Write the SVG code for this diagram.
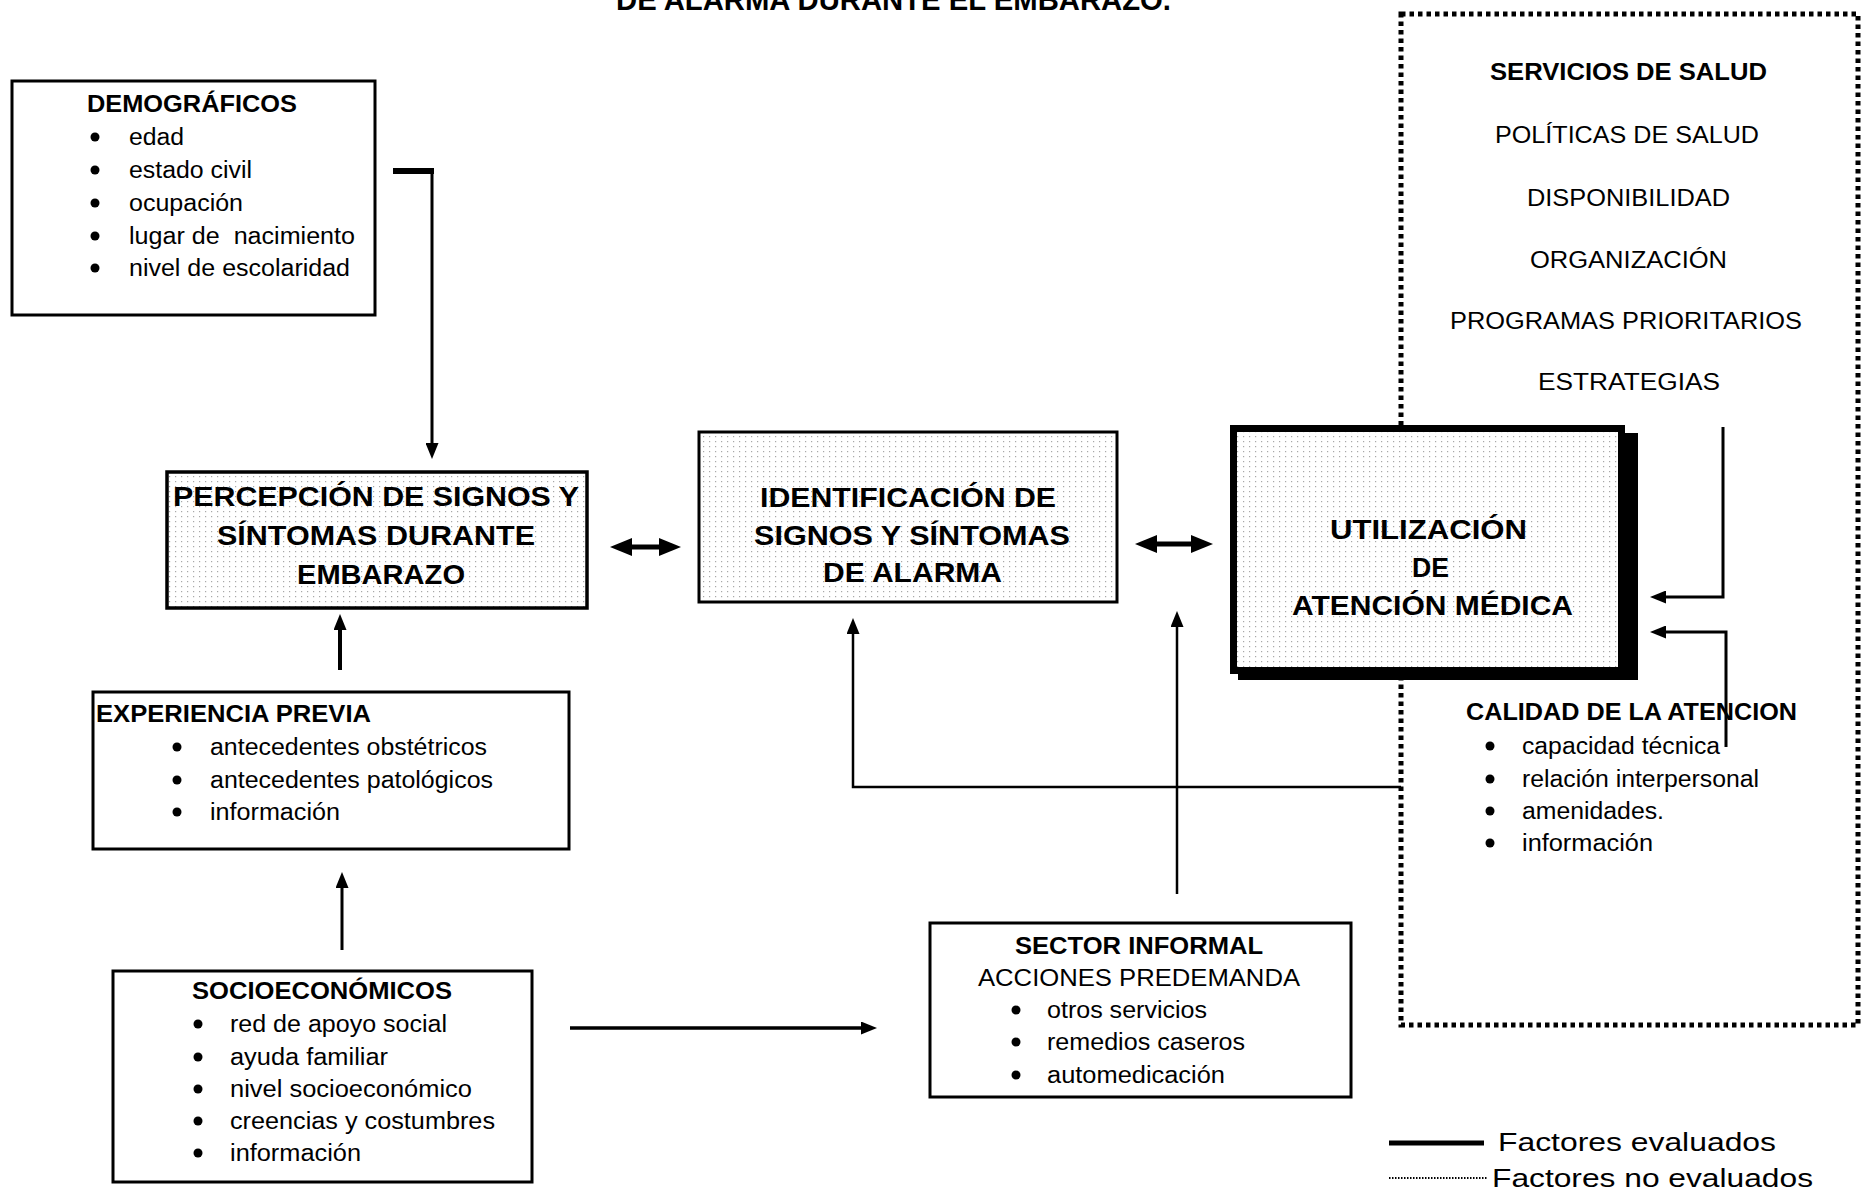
<svg xmlns="http://www.w3.org/2000/svg" width="1870" height="1192" viewBox="0 0 1870 1192">
<style>
text{font-family:"Liberation Sans",Arial,sans-serif;fill:#000}
.b{font-weight:bold}
.t{font-size:23px}
.big{font-size:28px;font-weight:bold}
.lg{font-size:25px}
.box{fill:#fff;stroke:#000;stroke-width:3}
.tex{fill:url(#dots);stroke:#000;stroke-width:3.5}
.c{fill:none;stroke:#000}
</style>
<defs>
<pattern id="dots" width="6" height="5" patternUnits="userSpaceOnUse">
<rect width="6" height="5" fill="#fff"/>
<rect x="1" y="1" width="1.2" height="1.2" fill="#a8a8a8"/>
</pattern>
<marker id="a1" viewBox="0 0 16 13" refX="3" refY="6.5" markerWidth="16" markerHeight="13" markerUnits="userSpaceOnUse" orient="auto-start-reverse">
<path d="M0,0 L16,6.5 L0,13 z" fill="#000"/>
</marker>
<marker id="a2" viewBox="0 0 22 18" refX="4" refY="9" markerWidth="22" markerHeight="18" markerUnits="userSpaceOnUse" orient="auto-start-reverse">
<path d="M0,0 L22,9 L0,18 z" fill="#000"/>
</marker>
</defs>
<rect width="1870" height="1192" fill="#fff"/>

<text id="title" class="b" x="616" y="10" font-size="29" textLength="555" lengthAdjust="spacingAndGlyphs">DE ALARMA DURANTE EL EMBARAZO.</text>

<g id="servicios">
<rect x="1401" y="14" width="457" height="1011" fill="none" stroke="#000" stroke-width="5" stroke-dasharray="4.5 4"/>
<text class="t b" x="1490" y="80" textLength="277" lengthAdjust="spacingAndGlyphs">SERVICIOS DE SALUD</text>
<text class="t" x="1495" y="143" textLength="264" lengthAdjust="spacingAndGlyphs">POLÍTICAS DE SALUD</text>
<text class="t" x="1527" y="206" textLength="203" lengthAdjust="spacingAndGlyphs">DISPONIBILIDAD</text>
<text class="t" x="1530" y="268" textLength="197" lengthAdjust="spacingAndGlyphs">ORGANIZACIÓN</text>
<text class="t" x="1450" y="329" textLength="352" lengthAdjust="spacingAndGlyphs">PROGRAMAS PRIORITARIOS</text>
<text class="t" x="1538" y="390" textLength="182" lengthAdjust="spacingAndGlyphs">ESTRATEGIAS</text>
</g>

<g id="calidad">
<text class="t b" x="1466" y="720" textLength="331" lengthAdjust="spacingAndGlyphs">CALIDAD DE LA ATENCION</text>
<circle cx="1490" cy="746" r="4.5"/>
<text class="t" x="1522" y="754" textLength="198" lengthAdjust="spacingAndGlyphs">capacidad técnica</text>
<circle cx="1490" cy="779" r="4.5"/>
<text class="t" x="1522" y="787" textLength="237" lengthAdjust="spacingAndGlyphs">relación interpersonal</text>
<circle cx="1490" cy="811" r="4.5"/>
<text class="t" x="1522" y="819" textLength="142" lengthAdjust="spacingAndGlyphs">amenidades.</text>
<circle cx="1490" cy="843" r="4.5"/>
<text class="t" x="1522" y="851" textLength="131" lengthAdjust="spacingAndGlyphs">información</text>
</g>

<g id="connectors">
<line class="c" x1="393" y1="171" x2="434" y2="171" stroke-width="6"/>
<path class="c" d="M432,171 V446" stroke-width="3" marker-end="url(#a1)"/>
<line class="c" x1="628" y1="547" x2="663" y2="547" stroke-width="5" marker-start="url(#a2)" marker-end="url(#a2)"/>
<line class="c" x1="1153" y1="544" x2="1195" y2="544" stroke-width="5" marker-start="url(#a2)" marker-end="url(#a2)"/>
<path class="c" d="M1723,427 V597 H1663" stroke-width="3" marker-end="url(#a1)"/>
<path class="c" d="M1726,747 V632 H1663" stroke-width="3" marker-end="url(#a1)"/>
<path class="c" d="M1401,787 H853 V631" stroke-width="2.5" marker-end="url(#a1)"/>
<path class="c" d="M1177,894 V624" stroke-width="2.5" marker-end="url(#a1)"/>
<path class="c" d="M340,670 V627" stroke-width="4" marker-end="url(#a1)"/>
<path class="c" d="M342,950 V885" stroke-width="3" marker-end="url(#a1)"/>
<path class="c" d="M570,1028 H864" stroke-width="3.5" marker-end="url(#a1)"/>
</g>

<g id="demograficos">
<rect class="box" x="12" y="81" width="363" height="234"/>
<text class="t b" x="87" y="112" textLength="210" lengthAdjust="spacingAndGlyphs">DEMOGRÁFICOS</text>
<circle cx="95" cy="137" r="4.5"/>
<text class="t" x="129" y="145" textLength="55" lengthAdjust="spacingAndGlyphs">edad</text>
<circle cx="95" cy="170" r="4.5"/>
<text class="t" x="129" y="178" textLength="123" lengthAdjust="spacingAndGlyphs">estado civil</text>
<circle cx="95" cy="203" r="4.5"/>
<text class="t" x="129" y="211" textLength="114" lengthAdjust="spacingAndGlyphs">ocupación</text>
<circle cx="95" cy="236" r="4.5"/>
<text class="t" x="129" y="244" textLength="226" lengthAdjust="spacingAndGlyphs" xml:space="preserve">lugar de  nacimiento</text>
<circle cx="95" cy="268" r="4.5"/>
<text class="t" x="129" y="276" textLength="221" lengthAdjust="spacingAndGlyphs">nivel de escolaridad</text>
</g>

<g id="percepcion">
<rect class="tex" x="167" y="472" width="420" height="136"/>
<text class="big" x="173" y="506" textLength="406" lengthAdjust="spacingAndGlyphs">PERCEPCIÓN DE SIGNOS Y</text>
<text class="big" x="217" y="545" textLength="318" lengthAdjust="spacingAndGlyphs">SÍNTOMAS DURANTE</text>
<text class="big" x="297" y="584" textLength="168" lengthAdjust="spacingAndGlyphs">EMBARAZO</text>
</g>

<g id="identificacion">
<rect class="tex" x="699" y="432" width="418" height="170" style="stroke-width:3"/>
<text class="big" x="760" y="507" textLength="296" lengthAdjust="spacingAndGlyphs">IDENTIFICACIÓN DE</text>
<text class="big" x="754" y="545" textLength="316" lengthAdjust="spacingAndGlyphs">SIGNOS Y SÍNTOMAS</text>
<text class="big" x="823" y="582" textLength="179" lengthAdjust="spacingAndGlyphs">DE ALARMA</text>
</g>

<g id="utilizacion">
<rect x="1238" y="433" width="400" height="247" fill="#000"/>
<rect x="1233.5" y="428.5" width="388" height="242" fill="url(#dots)" stroke="#000" stroke-width="7"/>
<text class="big" x="1330" y="539" textLength="197" lengthAdjust="spacingAndGlyphs">UTILIZACIÓN</text>
<text class="big" x="1412" y="577" textLength="37" lengthAdjust="spacingAndGlyphs">DE</text>
<text class="big" x="1292" y="615" textLength="281" lengthAdjust="spacingAndGlyphs">ATENCIÓN MÉDICA</text>
</g>

<g id="experiencia">
<rect class="box" x="93" y="692" width="476" height="157"/>
<text class="t b" x="96" y="722" textLength="275" lengthAdjust="spacingAndGlyphs">EXPERIENCIA PREVIA</text>
<circle cx="177" cy="747" r="4.5"/>
<text class="t" x="210" y="755" textLength="277" lengthAdjust="spacingAndGlyphs">antecedentes obstétricos</text>
<circle cx="177" cy="780" r="4.5"/>
<text class="t" x="210" y="788" textLength="283" lengthAdjust="spacingAndGlyphs">antecedentes patológicos</text>
<circle cx="177" cy="812" r="4.5"/>
<text class="t" x="210" y="820" textLength="130" lengthAdjust="spacingAndGlyphs">información</text>
</g>

<g id="socioeconomicos">
<rect class="box" x="113" y="971" width="419" height="211"/>
<text class="t b" x="192" y="999" textLength="260" lengthAdjust="spacingAndGlyphs">SOCIOECONÓMICOS</text>
<circle cx="198" cy="1024" r="4.5"/>
<text class="t" x="230" y="1032" textLength="217" lengthAdjust="spacingAndGlyphs">red de apoyo social</text>
<circle cx="198" cy="1057" r="4.5"/>
<text class="t" x="230" y="1065" textLength="158" lengthAdjust="spacingAndGlyphs">ayuda familiar</text>
<circle cx="198" cy="1089" r="4.5"/>
<text class="t" x="230" y="1097" textLength="242" lengthAdjust="spacingAndGlyphs">nivel socioeconómico</text>
<circle cx="198" cy="1121" r="4.5"/>
<text class="t" x="230" y="1129" textLength="265" lengthAdjust="spacingAndGlyphs">creencias y costumbres</text>
<circle cx="198" cy="1153" r="4.5"/>
<text class="t" x="230" y="1161" textLength="131" lengthAdjust="spacingAndGlyphs">información</text>
</g>

<g id="sector">
<rect class="box" x="930" y="923" width="421" height="174"/>
<text class="t b" x="1015" y="954" textLength="248" lengthAdjust="spacingAndGlyphs">SECTOR INFORMAL</text>
<text class="t" x="978" y="986" textLength="322" lengthAdjust="spacingAndGlyphs">ACCIONES PREDEMANDA</text>
<circle cx="1016" cy="1010" r="4.5"/>
<text class="t" x="1047" y="1018" textLength="160" lengthAdjust="spacingAndGlyphs">otros servicios</text>
<circle cx="1016" cy="1042" r="4.5"/>
<text class="t" x="1047" y="1050" textLength="198" lengthAdjust="spacingAndGlyphs">remedios caseros</text>
<circle cx="1016" cy="1075" r="4.5"/>
<text class="t" x="1047" y="1083" textLength="178" lengthAdjust="spacingAndGlyphs">automedicación</text>
</g>

<g id="legend">
<line x1="1389" y1="1143" x2="1484" y2="1143" stroke="#000" stroke-width="5"/>
<text class="lg" x="1498" y="1151" textLength="278" lengthAdjust="spacingAndGlyphs">Factores evaluados</text>
<line x1="1389" y1="1178" x2="1487" y2="1178" stroke="#000" stroke-width="2" stroke-dasharray="1.5 1.5"/>
<text class="lg" x="1492" y="1187" textLength="321" lengthAdjust="spacingAndGlyphs">Factores no evaluados</text>
</g>
</svg>
